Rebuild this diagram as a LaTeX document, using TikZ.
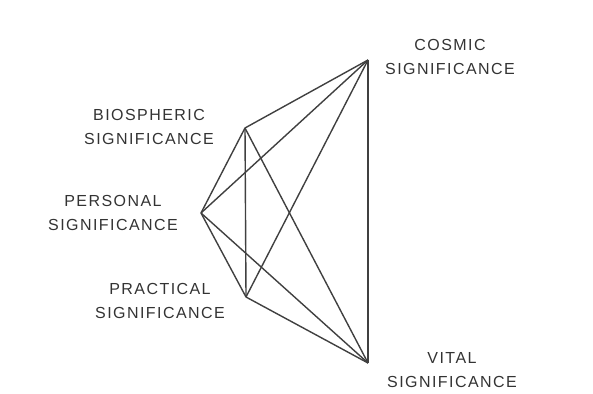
\documentclass[tikz,border=0pt]{standalone}
\usepackage{fontspec}
\newfontfamily\labfont[LetterSpace=9]{Liberation Sans}
\usetikzlibrary{positioning}

\begin{document}
\begin{tikzpicture}[x=0.5pt, y=-0.5pt,
    lab/.style={font=\labfont\fontsize{8}{12}\selectfont, align=center, text=black!80, inner sep=0pt},
    edge/.style={draw=black!75, line width=0.7pt}]
    % Rahmen
    \useasboundingbox (0,0) rectangle (593,394);

    % Ecken
    \coordinate (cosmic) at (368,60);
    \coordinate (bio) at (245,128);
    \coordinate (pers) at (201,213);
    \coordinate (prac) at (246,297);
    \coordinate (vital) at (368,363);

    % Beschriftungen
    \node[lab] (cosmiclab) at (450,57) {COSMIC\\SIGNIFICANCE};
    \node[lab] (biolab) at (149,127) {BIOSPHERIC\\SIGNIFICANCE};
    \node[lab] (perslab) at (113,213) {PERSONAL\\SIGNIFICANCE};
    \node[lab] (praclab) at (160,301) {PRACTICAL\\SIGNIFICANCE};
    \node[lab] (vitallab) at (452,370) {VITAL\\SIGNIFICANCE};

    % alle Verbindungen
    \foreach \a/\b in {cosmic/bio, cosmic/pers, cosmic/prac, cosmic/vital,
                       bio/pers, bio/prac, bio/vital,
                       pers/prac, pers/vital, prac/vital} {
        \draw[edge] (\a) -- (\b);
    }
\end{tikzpicture}
\end{document}
